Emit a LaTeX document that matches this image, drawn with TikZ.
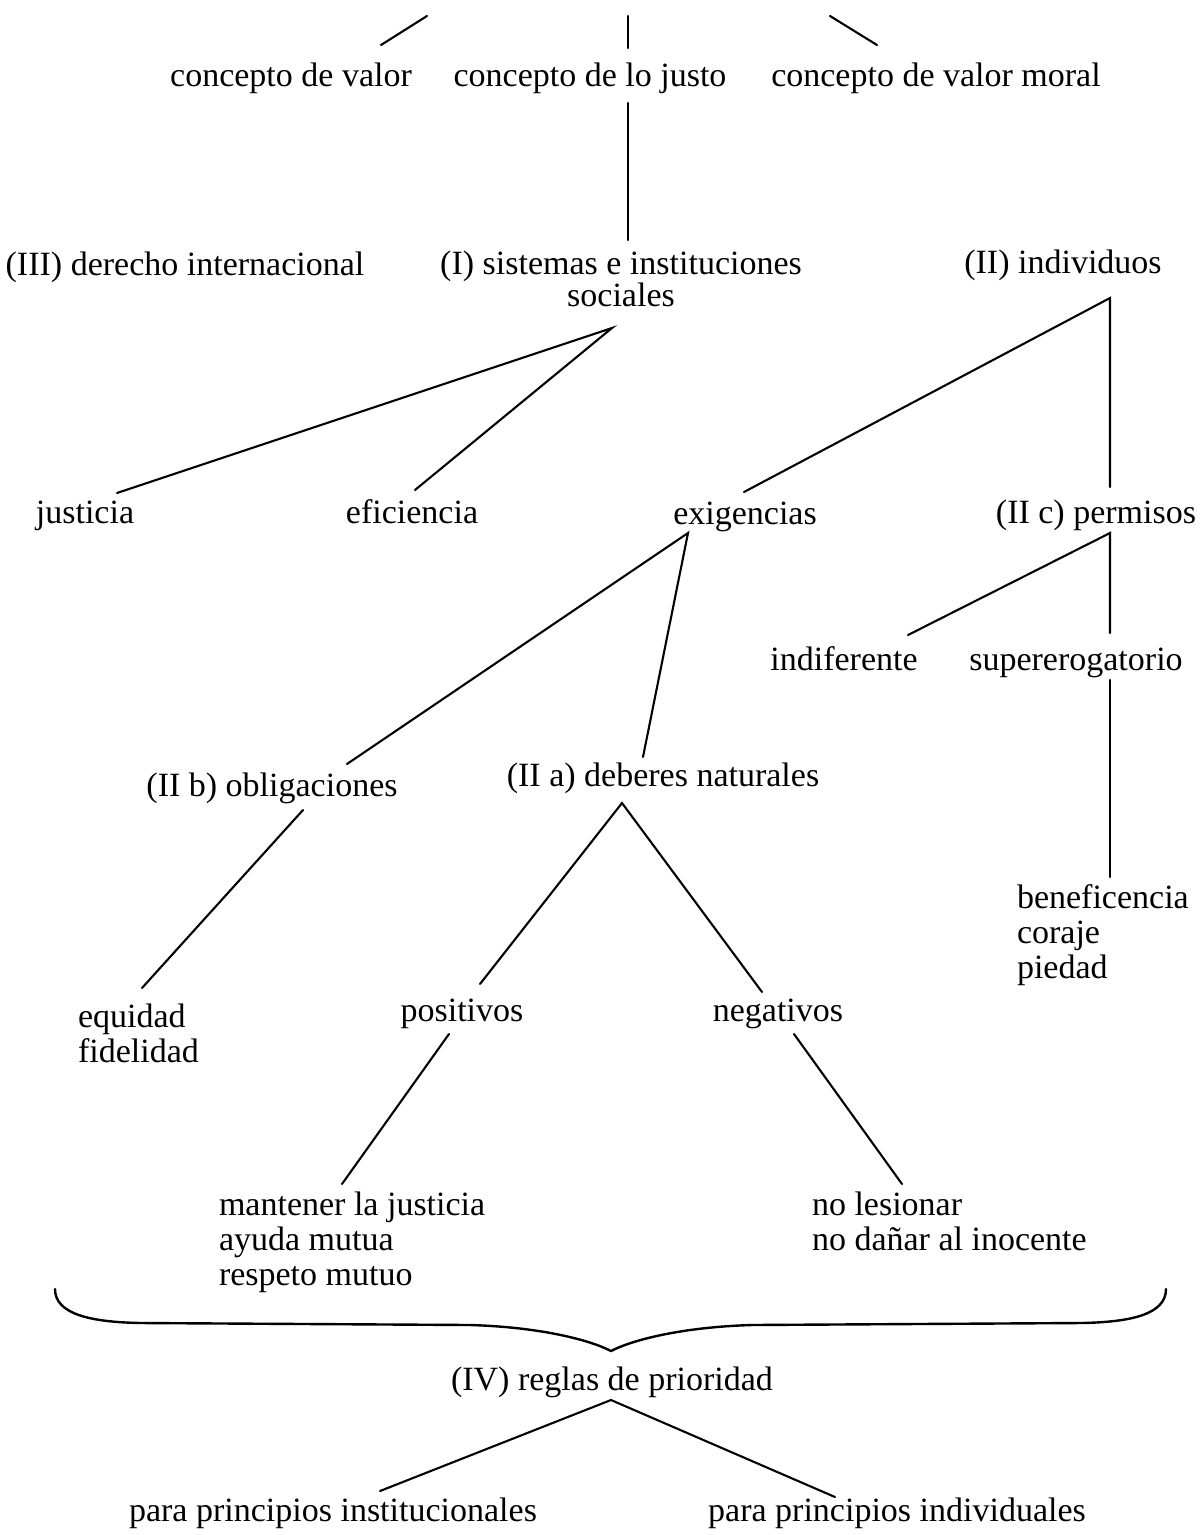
\documentclass[tikz,border=0pt]{standalone}
\usepackage{fontspec}
\setmainfont{Liberation Serif}
\newcommand\lab{\fontsize{34}{35}\selectfont}
\begin{document}
\begin{tikzpicture}[x=1pt,y=-1pt,
  lbl/.style={inner sep=0pt,outer sep=0pt,font=\lab,anchor=base},
  lblml/.style={inner sep=0pt,outer sep=0pt,font=\lab,anchor=north west,align=left},
  conn/.style={line width=2.1pt,line cap=round}]
\useasboundingbox[fill=white] (0,0) rectangle (1203,1535);

% ---- nodes ----
\node[lbl] (cv)  at (291,86) {concepto de valor};
\node[lbl] (cj)  at (590,86) {concepto de lo justo};
\node[lbl] (cvm) at (936,86) {concepto de valor moral};

\node[lbl] (III) at (185,275) {(III) derecho internacional};
\node[inner sep=0pt,outer sep=0pt,font=\lab,anchor=north,align=center] (I) at (621,251)
  {(I) sistemas e instituciones\\[-3pt]sociales};
\node[lbl] (II)  at (1063,273) {(II) individuos};

\node[lbl] (just) at (85,523)  {justicia};
\node[lbl] (efi)  at (412,523) {eficiencia};
\node[lbl] (exi)  at (745,524) {exigencias};
\node[lbl] (IIc)  at (1096,523) {(II c) permisos};

\node[lbl] (ind) at (844,670)  {indiferente};
\node[lbl] (sup) at (1076,670) {supererogatorio};

\node[lbl] (IIb) at (272,796) {(II b) obligaciones};
\node[lbl] (IIa) at (663,786) {(II a) deberes naturales};

\node[lblml] (ben) at (1017,885) {beneficencia\\coraje\\piedad};
\node[lblml] (equ) at (78,1004)  {equidad\\fidelidad};

\node[lbl] (pos) at (462,1021) {positivos};
\node[lbl] (neg) at (778,1021) {negativos};

\node[lblml] (man) at (219,1192) {mantener la justicia\\ayuda mutua\\respeto mutuo};
\node[lblml] (nol) at (812,1192) {no lesionar\\no dañar al inocente};

\node[lbl] (IV)  at (612,1390) {(IV) reglas de prioridad};
\node[lbl] (ppi) at (333,1521) {para principios institucionales};
\node[lbl] (ppd) at (897,1521) {para principios individuales};

% ---- connector end points ----
\coordinate (cvU)  at (427,16);  \coordinate (cvD)  at (381,45);
\coordinate (cjU)  at (628,16);  \coordinate (cjD)  at (628,48);
\coordinate (cvmU) at (830,16);  \coordinate (cvmD) at (877,45);
\coordinate (cjB)  at (628,103); \coordinate (IT)   at (628,240);
\coordinate (IA)   at (612,328); \coordinate (justT) at (117,493);
\coordinate (efiT) at (415,490);
\coordinate (IIA)  at (1110,298); \coordinate (exiT) at (744,492);
\coordinate (IIcT) at (1110,487);
\coordinate (exiA) at (688,533); \coordinate (IIbT) at (347,764);
\coordinate (IIaT) at (643,757);
\coordinate (IIcA) at (1110,533); \coordinate (indT) at (908,635);
\coordinate (supT) at (1110,633);
\coordinate (supB) at (1110,680); \coordinate (benT) at (1110,877);
\coordinate (IIbB) at (303,810); \coordinate (equT) at (142,988);
\coordinate (IIaA) at (622,803); \coordinate (posT) at (480,984);
\coordinate (negT) at (762,992);
\coordinate (posB) at (449,1034); \coordinate (manT) at (342,1184);
\coordinate (negB) at (794,1034); \coordinate (nolT) at (902,1184);
\coordinate (IVA)  at (611,1400); \coordinate (ppiT) at (380,1491);
\coordinate (ppdT) at (835,1497);

% ---- connectors ----
\draw[conn] (cvU) -- (cvD);
\draw[conn] (cjU) -- (cjD);
\draw[conn] (cvmU) -- (cvmD);
\draw[conn] (cjB) -- (IT);
\draw[conn] (justT) -- (IA) -- (efiT);
\draw[conn] (exiT) -- (IIA) -- (IIcT);
\draw[conn] (IIbT) -- (exiA) -- (IIaT);
\draw[conn] (indT) -- (IIcA) -- (supT);
\draw[conn] (supB) -- (benT);
\draw[conn] (IIbB) -- (equT);
\draw[conn] (posT) -- (IIaA) -- (negT);
\draw[conn] (posB) -- (manT);
\draw[conn] (negB) -- (nolT);
\draw[conn] (ppiT) -- (IVA) -- (ppdT);

% ---- brace ----
\coordinate (brL) at (55,1289);
\coordinate (brR) at (1166,1289);
\coordinate (brM) at (611,1351);
\draw[conn,line width=2.4pt] (brL) .. controls (55,1314) and (90,1322) .. (140,1323)
  -- (470,1325) .. controls (540,1327) and (590,1340) .. (brM)
  .. controls (632,1340) and (682,1327) .. (752,1325)
  -- (1082,1323) .. controls (1132,1322) and (1166,1314) .. (brR);
\end{tikzpicture}
\end{document}
